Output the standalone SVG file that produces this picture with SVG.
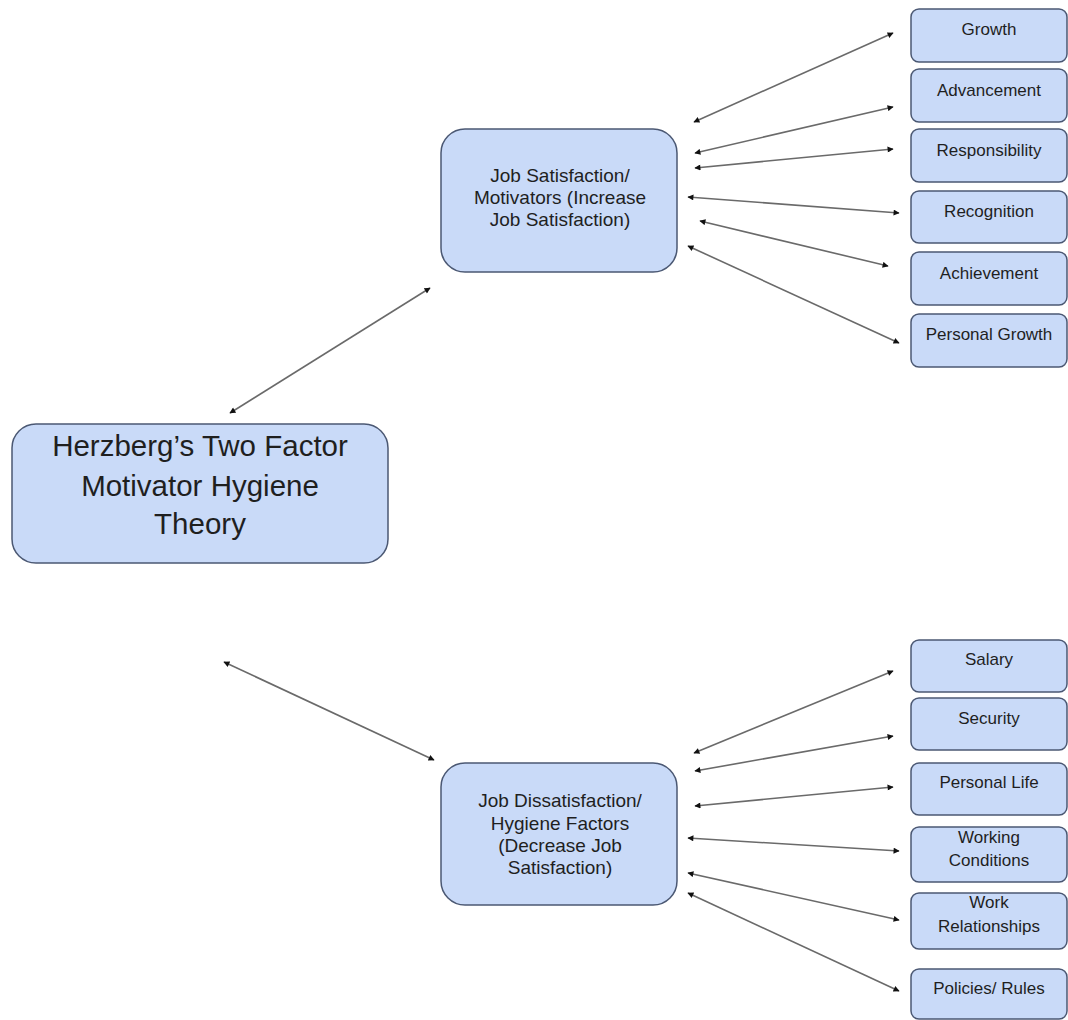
<svg xmlns="http://www.w3.org/2000/svg" width="1068" height="1020" viewBox="0 0 1068 1020">
<defs>
<style>
.box{fill:#c9daf8;stroke:#4b5873;stroke-width:1.5}
.t{font-family:"Liberation Sans",Arial,sans-serif;fill:#1f1f1f;text-anchor:middle}
.s{font-size:17px}
.m{font-size:19px}
.b{font-size:29.5px}
.c{stroke:#6a6a6a;stroke-width:1.6;fill:none;marker-start:url(#ah);marker-end:url(#ah)}
</style>
<marker id="ah" viewBox="0 0 10 10" refX="9" refY="5" markerWidth="7" markerHeight="6" markerUnits="userSpaceOnUse" orient="auto-start-reverse">
<path d="M0,0 L10,5 L0,10 z" fill="#111"/>
</marker>
</defs>
<rect width="1068" height="1020" fill="#ffffff"/>

<g id="connectors">
<line class="c" x1="230" y1="413" x2="430" y2="288"/>
<line class="c" x1="224" y1="662" x2="434" y2="760"/>
<line class="c" x1="694" y1="122" x2="893" y2="33"/>
<line class="c" x1="695" y1="153" x2="893" y2="107"/>
<line class="c" x1="695" y1="168" x2="893" y2="149"/>
<line class="c" x1="688" y1="197" x2="899" y2="213"/>
<line class="c" x1="700" y1="221" x2="888" y2="266"/>
<line class="c" x1="688" y1="246" x2="899" y2="343"/>
<line class="c" x1="694" y1="753" x2="893" y2="671"/>
<line class="c" x1="695" y1="771" x2="893" y2="736"/>
<line class="c" x1="695" y1="806" x2="893" y2="787"/>
<line class="c" x1="688" y1="838" x2="899" y2="851"/>
<line class="c" x1="688" y1="873" x2="899" y2="920"/>
<line class="c" x1="688" y1="893" x2="899" y2="991"/>
</g>

<g id="main">
<rect class="box" x="12" y="424" width="376" height="139" rx="24"/>
<text class="t b" x="200" y="456">Herzberg’s Two Factor</text>
<text class="t b" x="200" y="496">Motivator Hygiene</text>
<text class="t b" x="200" y="534">Theory</text>
</g>

<g id="satisfaction">
<rect class="box" x="441" y="129" width="236" height="143" rx="24"/>
<text class="t m" x="560" y="182">Job Satisfaction/</text>
<text class="t m" x="560" y="204">Motivators (Increase</text>
<text class="t m" x="560" y="226">Job Satisfaction)</text>
</g>

<g id="dissatisfaction">
<rect class="box" x="441" y="763" width="236" height="142" rx="24"/>
<text class="t m" x="560" y="807">Job Dissatisfaction/</text>
<text class="t m" x="560" y="830">Hygiene Factors</text>
<text class="t m" x="560" y="852">(Decrease Job</text>
<text class="t m" x="560" y="874">Satisfaction)</text>
</g>

<g id="growth"><rect class="box" x="911" y="9" width="156" height="53" rx="8"/><text class="t s" x="989" y="35">Growth</text></g>
<g id="advancement"><rect class="box" x="911" y="69" width="156" height="53" rx="8"/><text class="t s" x="989" y="96">Advancement</text></g>
<g id="responsibility"><rect class="box" x="911" y="129" width="156" height="53" rx="8"/><text class="t s" x="989" y="156">Responsibility</text></g>
<g id="recognition"><rect class="box" x="911" y="191" width="156" height="52" rx="8"/><text class="t s" x="989" y="217">Recognition</text></g>
<g id="achievement"><rect class="box" x="911" y="252" width="156" height="53" rx="8"/><text class="t s" x="989" y="279">Achievement</text></g>
<g id="personal-growth"><rect class="box" x="911" y="314" width="156" height="53" rx="8"/><text class="t s" x="989" y="340">Personal Growth</text></g>

<g id="salary"><rect class="box" x="911" y="640" width="156" height="52" rx="8"/><text class="t s" x="989" y="665">Salary</text></g>
<g id="security"><rect class="box" x="911" y="698" width="156" height="52" rx="8"/><text class="t s" x="989" y="724">Security</text></g>
<g id="personal-life"><rect class="box" x="911" y="763" width="156" height="52" rx="8"/><text class="t s" x="989" y="788">Personal Life</text></g>
<g id="working-conditions"><rect class="box" x="911" y="827" width="156" height="55" rx="8"/><text class="t s" x="989" y="843">Working</text><text class="t s" x="989" y="866">Conditions</text></g>
<g id="work-relationships"><rect class="box" x="911" y="893" width="156" height="56" rx="8"/><text class="t s" x="989" y="908">Work</text><text class="t s" x="989" y="932">Relationships</text></g>
<g id="policies-rules"><rect class="box" x="911" y="969" width="156" height="50" rx="8"/><text class="t s" x="989" y="994">Policies/ Rules</text></g>
</svg>
